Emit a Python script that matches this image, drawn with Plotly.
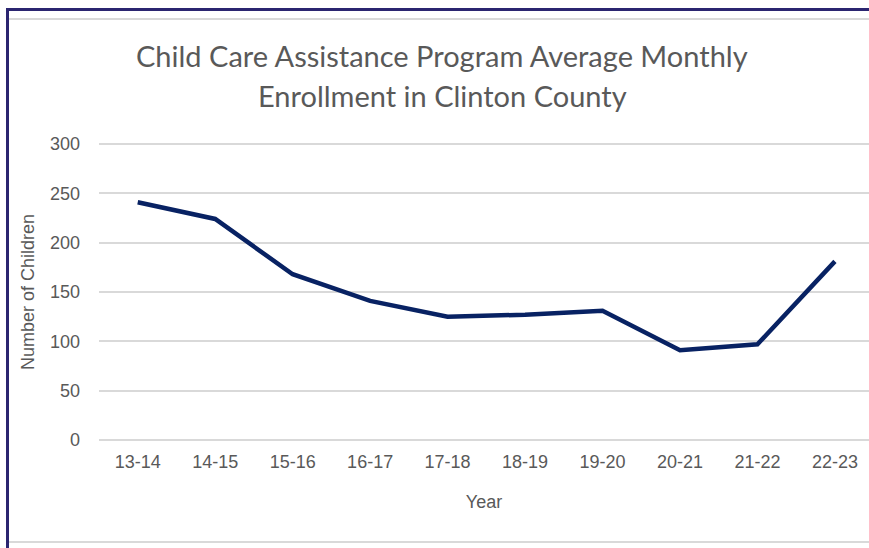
import plotly.graph_objects as go

years = ["13-14", "14-15", "15-16", "16-17", "17-18", "18-19", "19-20", "20-21", "21-22", "22-23"]
children = [241, 224, 168, 141, 125, 127, 131, 91, 97, 181]
y_ticks = [0, 50, 100, 150, 200, 250, 300]

W, H = 869, 548
L, R, T, B = 99, 0, 141, 105
PW, PH = W - L - R, H - T - B

def px(x):
    return (x - L) / PW

def py(y):
    return (H - B - y) / PH

fig = go.Figure()
fig.add_trace(go.Scatter(
    x=years, y=children, mode="lines",
    line=dict(color="#082263", width=4.5),
    hoverinfo="x+y",
))

grey = "#595959"
fig.update_layout(
    width=W, height=H,
    margin=dict(l=L, r=R, t=T, b=B),
    paper_bgcolor="white", plot_bgcolor="white",
    showlegend=False,
    font=dict(family="Liberation Sans, Arial, sans-serif", color=grey, size=18),
    xaxis=dict(
        type="category", range=[-0.5, 9.44],
        showgrid=False, zeroline=False, showline=False,
        tickfont=dict(size=18, color=grey),
        ticklabelstandoff=6,
        title=dict(text="Year", font=dict(size=18, color=grey), standoff=24),
    ),
    yaxis=dict(
        range=[-3, 303], tickvals=y_ticks,
        showgrid=True, gridcolor="#D9D9D9", gridwidth=1.5,
        zeroline=False, showline=False,
        tickfont=dict(size=18, color=grey),
        ticklabelstandoff=18,
        title=dict(text="Number of Children", font=dict(size=18, color=grey), standoff=10),
    ),
)

fig.add_annotation(text="Child Care Assistance Program Average Monthly",
                   xref="paper", yref="paper", x=px(442), y=py(55),
                   xanchor="center", yanchor="middle", showarrow=False,
                   font=dict(family="Lato, sans-serif", size=29, color=grey))
fig.add_annotation(text="Enrollment in Clinton County",
                   xref="paper", yref="paper", x=px(442), y=py(95),
                   xanchor="center", yanchor="middle", showarrow=False,
                   font=dict(family="Lato, sans-serif", size=29, color=grey))

# frame lines
fig.add_shape(type="line", xref="paper", yref="paper", x0=px(7.5), x1=px(7.5), y0=py(8), y1=py(548),
              line=dict(color="#2B2570", width=3))
fig.add_shape(type="line", xref="paper", yref="paper", x0=px(6), x1=px(869), y0=py(9.5), y1=py(9.5),
              line=dict(color="#2B2570", width=3))
fig.add_shape(type="line", xref="paper", yref="paper", x0=px(9), x1=px(869), y0=py(19), y1=py(19),
              line=dict(color="#D9D9D9", width=2))
fig.add_shape(type="line", xref="paper", yref="paper", x0=px(9), x1=px(869), y0=py(542), y1=py(542),
              line=dict(color="#D9D9D9", width=2))

fig.write_html("out.html", config={"displayModeBar": False},
               post_script="document.body.style.margin='0';document.body.style.overflow='hidden';")
